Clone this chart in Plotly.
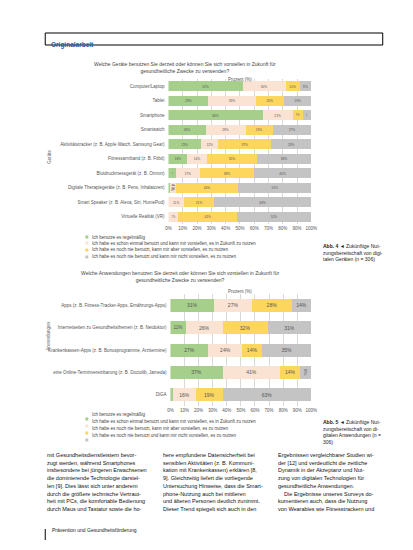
import plotly.graph_objects as go

# Abb. 4: Geräte (Anteile in %)
geraete = ["Computer/Laptop", "Tablet", "Smartphone", "Smartwatch",
           "Aktivitätstracker (z. B. Apple Watch, Samsung Gear)",
           "Fitnessarmband (z. B. Fitbit)",
           "Blutdruckmessgerät (z. B. Omron)",
           "Digitale Therapiegeräte (z. B. Pens, Inhalatoren)",
           "Smart Speaker (z. B. Alexa, Siri, HomePod)",
           "Virtuelle Realität (VR)"]
g_regel = [52, 28, 66, 26, 23, 13, 5, 1, 0, 0]
g_schon = [30, 33, 21, 28, 12, 14, 17, 4, 11, 7]
g_vorst = [10, 20, 7, 19, 37, 35, 38, 44, 21, 41]
g_nicht = [8, 19, 6, 27, 28, 38, 40, 51, 68, 52]

# Abb. 5: Anwendungen (Anteile in %)
anwendungen = ["Apps (z. B. Fitness-Tracker-Apps, Ernährungs-Apps)",
               "Internetseiten zu Gesundheitsthemen (z. B. Netdoktor)",
               "Krankenkassen-Apps (z. B. Bonusprogramme, Arzttermine)",
               "eine Online-Terminvereinbarung (z. B. Doctolib, Jameda)",
               "DiGA"]
a_regel = [31, 11, 27, 37, 2]
a_schon = [27, 26, 24, 41, 16]
a_vorst = [28, 32, 14, 14, 19]
a_nicht = [14, 31, 35, 8, 63]

antworten = ["Ich benutze es regelmäßig",
             "Ich habe es schon einmal benutzt und kann mir vorstellen, es in Zukunft zu nutzen",
             "Ich habe es noch nie benutzt, kann mir aber vorstellen, es zu nutzen",
             "Ich habe es noch nie benutzt und kann mir nicht vorstellen, es zu nutzen"]
farben = ["#a6cf8b", "#fbe3d4", "#fdd65e", "#c4c4c4"]

W, H = 413, 550
FONT = "Liberation Sans"


def px_x(x):
    return x / W


def px_y(y):
    return 1 - y / H


def labels(serie):
    return [f"{v}%" if v >= 4 else "" for v in serie]


fig = go.Figure()

for serie, name, col in zip([g_regel, g_schon, g_vorst, g_nicht], antworten, farben):
    fig.add_trace(go.Bar(
        y=geraete, x=serie, name=name, orientation="h",
        marker=dict(color=col, line=dict(width=0)),
        width=0.68, xaxis="x", yaxis="y", showlegend=False,
        text=labels(serie), textposition="inside",
        insidetextanchor="middle", textfont=dict(size=5, color="#555"),
        hoverinfo="skip"))

for serie, name, col in zip([a_regel, a_schon, a_vorst, a_nicht], antworten, farben):
    fig.add_trace(go.Bar(
        y=anwendungen, x=serie, name=name, orientation="h",
        marker=dict(color=col, line=dict(width=0)),
        width=0.58, xaxis="x2", yaxis="y2", showlegend=False,
        text=labels(serie), textposition="inside",
        insidetextanchor="middle", textfont=dict(size=5, color="#555"),
        hoverinfo="skip"))

achse_x = dict(range=[0, 100], dtick=10, ticksuffix="%", showgrid=True,
               gridcolor="#d9d9d9", gridwidth=0.6, zeroline=False,
               tickfont=dict(size=4.5, color="#555"), ticks="", fixedrange=True)
achse_y = dict(autorange="reversed", tickfont=dict(size=4.5, color="#555"),
               ticks="", showgrid=False, fixedrange=True, ticklabelstandoff=3)

fig.update_layout(
    width=W, height=H,
    margin=dict(l=0, r=0, t=0, b=0),
    paper_bgcolor="white", plot_bgcolor="white",
    barmode="stack",
    font=dict(family=FONT, color="#333"),
    xaxis=dict(domain=[px_x(161), px_x(307)], anchor="y", **achse_x),
    yaxis=dict(domain=[px_y(216), px_y(71)], anchor="x", **achse_y),
    xaxis2=dict(domain=[px_x(163), px_x(307)], anchor="y2", **achse_x),
    yaxis2=dict(domain=[px_y(398), px_y(286)], anchor="x2", **achse_y),
)

ann = []
shapes = []


def text(x, y, t, size=5, color="#444", **kw):
    d = dict(x=px_x(x), y=px_y(y), xref="paper", yref="paper", text=t,
             showarrow=False, font=dict(size=size, color=color))
    d.update(kw)
    ann.append(d)


# Kopfzeile
shapes.append(dict(type="rect", xref="paper", yref="paper",
                   x0=px_x(35), x1=px_x(380), y0=px_y(37), y1=px_y(25),
                   line=dict(color="black", width=1)))
text(39, 31, "<b>Originalarbeit</b>", size=6.5, color="#1f5aa6", xanchor="left")

# Titel
text(178, 51, "Welche Geräte benutzen Sie derzeit oder können Sie sich vorstellen in Zukunft für<br>gesundheitliche Zwecke zu verwenden?",
     align="center")
text(173, 269, "Welche Anwendungen benutzen Sie derzeit oder können Sie sich vorstellen in Zukunft für<br>gesundheitliche Zwecke zu verwenden?",
     align="center")
for yy in [67, 283]:
    text(234, yy, "Prozent (%)", size=4.5, color="#555")
text(35, 140, "Geräte", size=4.5, color="#666", textangle=-90)
text(33, 328, "Anwendungen", size=4.5, color="#666", textangle=-90)

# Legenden
for ys in [[229, 235, 242, 249], [411, 418, 425, 432]]:
    for yy, name, col in zip(ys, antworten, farben):
        shapes.append(dict(type="rect", xref="paper", yref="paper",
                           x0=px_x(76), x1=px_x(79), y0=px_y(yy + 1.5), y1=px_y(yy - 1.5),
                           fillcolor=col, line=dict(width=0)))
        text(81, yy, name, size=4.5, xanchor="left")

# Bildunterschriften
text(317, 233, "<b>Abb. 4</b> ◄ Zukünftige Nut-<br>zungsbereitschaft von digi-<br>talen Geräten (n = 306)",
     color="#222", xanchor="left", yanchor="top", align="left")
text(317, 409, "<b>Abb. 5</b> ◄ Zukünftige Nut-<br>zungsbereitschaft von di-<br>gitalen Anwendungen (n =<br>306)",
     color="#222", xanchor="left", yanchor="top", align="left")

# Fließtext
spalten = [
    ["mit Gesundheitsdienstleistern bevor-",
     "zugt werden, während Smartphones",
     "insbesondere bei jüngeren Erwachsenen",
     "die dominierende Technologie darstel-",
     "len [9]. Dies lässt sich unter anderem",
     "durch die größere technische Vertraut-",
     "heit mit PCs, die komfortable Bedienung",
     "durch Maus und Tastatur sowie die ho-"],
    ["here empfundene Datensicherheit bei",
     "sensiblen Aktivitäten (z. B. Kommuni-",
     "kation mit Krankenkassen) erklären [8,",
     "9]. Gleichzeitig liefert die vorliegende",
     "Untersuchung Hinweise, dass die Smart-",
     "phone-Nutzung auch bei mittleren",
     "und älteren Personen deutlich zunimmt.",
     "Dieser Trend spiegelt sich auch in den"],
    ["Ergebnissen vergleichbarer Studien wi-",
     "der [12] und verdeutlicht die zeitliche",
     "Dynamik in der Akzeptanz und Nut-",
     "zung von digitalen Technologien für",
     "gesundheitliche Anwendungen.",
     "    Die Ergebnisse unseres Surveys do-",
     "kumentieren auch, dass die Nutzung",
     "von Wearables wie Fitnesstrackern und"],
]
for x0, zeilen in zip([35, 153, 271], spalten):
    for i, z in enumerate(zeilen):
        text(x0, 452 + i * 7.7, z, size=5.5, color="#111", xanchor="left")

# Fußzeile
shapes.append(dict(type="line", xref="paper", yref="paper",
                   x0=px_x(35), x1=px_x(35), y0=px_y(532), y1=px_y(521),
                   line=dict(color="black", width=1)))
text(40, 527, "Prävention und Gesundheitsförderung", color="#222", xanchor="left")

fig.update_layout(annotations=ann, shapes=shapes)

fig.write_html("out.html")
